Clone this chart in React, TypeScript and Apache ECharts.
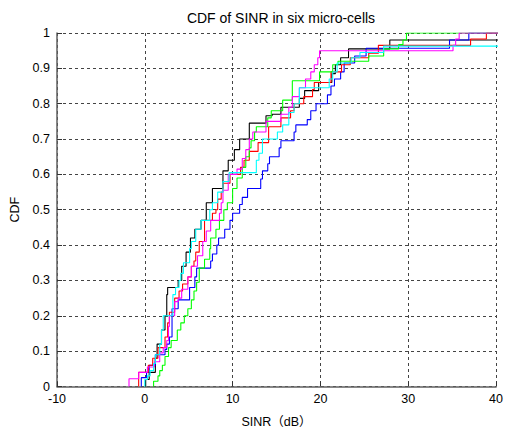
import React, { useEffect, useRef } from "react";
import * as echarts from "echarts";

const xTicks = [-10, 0, 10, 20, 30, 40];

const blackX = [0.1, 0.5, 1.2, 1.4, 1.9, 2.3, 2.5, 2.6, 3.8, 4.2, 4.7, 5.2, 5.7, 6.4, 7.0, 7.7, 8.9, 9.5, 10.2, 10.8, 11.9, 13.8, 14.5, 15.5, 17.6, 18.2, 19.8, 21.3, 21.7, 22.3, 23.2, 27.9];
const blackP = [0.02, 0.04, 0.08, 0.12, 0.16, 0.2, 0.26, 0.28, 0.3, 0.34, 0.38, 0.42, 0.445, 0.47, 0.52, 0.56, 0.61, 0.64, 0.67, 0.7, 0.745, 0.766, 0.77, 0.79, 0.815, 0.837, 0.86, 0.885, 0.91, 0.93, 0.955, 0.98];

const blueX = [-0.4, 0.2, 0.5, 1.2, 2.3, 2.5, 2.8, 3.1, 3.8, 5.1, 5.7, 5.9, 7.5, 7.7, 8.2, 8.4, 9.1, 9.7, 10.0, 10.8, 11.1, 11.7, 13.2, 13.4, 14.0, 14.2, 15.3, 15.5, 17.0, 17.2, 18.5, 18.9, 19.5, 20.8, 21.2, 21.6, 22.3, 22.7, 23.9, 25.2, 34.7, 36.9];
const blueP = [0.025, 0.04, 0.06, 0.09, 0.105, 0.12, 0.14, 0.22, 0.245, 0.28, 0.31, 0.335, 0.355, 0.375, 0.4, 0.42, 0.445, 0.47, 0.49, 0.515, 0.535, 0.56, 0.587, 0.61, 0.63, 0.65, 0.675, 0.695, 0.72, 0.74, 0.755, 0.78, 0.8, 0.825, 0.85, 0.87, 0.89, 0.915, 0.935, 0.957, 0.98, 1.0];

const redX = [-0.7, 0.4, 0.9, 1.5, 2.3, 2.6, 2.8, 3.4, 3.9, 4.3, 4.9, 5.3, 5.6, 5.8, 6.2, 6.8, 7.7, 8.1, 8.3, 8.7, 8.9, 9.7, 10.9, 11.3, 11.9, 12.9, 14.1, 15.5, 16.6, 17.0, 18.1, 19.1, 19.3, 21.2, 22.4, 23.4, 25.5, 26.6, 37.1, 38.9];
const redP = [0.04, 0.06, 0.08, 0.11, 0.14, 0.18, 0.21, 0.25, 0.27, 0.29, 0.31, 0.34, 0.355, 0.38, 0.41, 0.47, 0.49, 0.5, 0.53, 0.55, 0.575, 0.6, 0.62, 0.64, 0.665, 0.69, 0.735, 0.76, 0.78, 0.8, 0.82, 0.84, 0.86, 0.89, 0.91, 0.93, 0.943, 0.965, 0.983, 1.0];

const greenX = [1.0, 1.5, 1.7, 2.0, 2.3, 2.7, 3.0, 3.7, 4.1, 4.5, 4.9, 5.3, 5.6, 5.9, 6.2, 6.8, 7.4, 7.5, 8.1, 8.5, 9.0, 9.4, 10.0, 10.5, 11.1, 11.5, 11.9, 12.1, 12.5, 12.7, 14.0, 14.4, 15.7, 16.8, 19.9, 21.4, 22.0, 25.5, 27.2, 28.9, 29.4, 29.8];
const greenP = [0.015, 0.03, 0.045, 0.06, 0.085, 0.11, 0.13, 0.16, 0.18, 0.2, 0.22, 0.245, 0.27, 0.295, 0.335, 0.36, 0.39, 0.42, 0.445, 0.47, 0.5, 0.52, 0.56, 0.59, 0.62, 0.65, 0.675, 0.695, 0.72, 0.735, 0.76, 0.78, 0.81, 0.865, 0.89, 0.91, 0.92, 0.935, 0.955, 0.967, 0.98, 1.0];

const magentaX = [-1.8, -0.7, 0.3, 1.1, 1.7, 2.1, 2.5, 2.7, 2.8, 3.4, 3.8, 4.2, 4.9, 5.3, 6.0, 6.6, 7.0, 7.5, 8.5, 8.7, 8.9, 9.5, 10.5, 11.1, 11.5, 11.9, 12.3, 13.8, 15.5, 16.4, 16.8, 17.6, 18.3, 18.9, 19.3, 19.7, 19.9, 35.1, 35.4, 35.8];
const magentaP = [0.022, 0.04, 0.055, 0.07, 0.095, 0.11, 0.13, 0.17, 0.2, 0.24, 0.25, 0.275, 0.31, 0.34, 0.37, 0.41, 0.44, 0.47, 0.49, 0.52, 0.555, 0.6, 0.615, 0.645, 0.67, 0.7, 0.72, 0.75, 0.77, 0.79, 0.82, 0.845, 0.87, 0.89, 0.91, 0.93, 0.95, 0.965, 0.983, 1.0];

const cyanX = [0.0, 0.3, 0.6, 1.0, 1.2, 1.7, 1.9, 2.1, 3.2, 3.5, 3.9, 4.1, 4.4, 5.1, 5.3, 5.8, 6.4, 7.4, 7.7, 8.3, 8.9, 9.6, 12.7, 13.0, 13.4, 15.1, 15.7, 16.4, 17.0, 17.6, 21.0, 21.4, 21.9, 23.5, 24.5, 27.2];
const cyanP = [0.02, 0.03, 0.045, 0.065, 0.09, 0.12, 0.16, 0.2, 0.26, 0.28, 0.3, 0.32, 0.35, 0.39, 0.41, 0.445, 0.47, 0.5, 0.52, 0.55, 0.58, 0.605, 0.64, 0.66, 0.7, 0.72, 0.74, 0.775, 0.8, 0.845, 0.87, 0.89, 0.915, 0.93, 0.945, 0.963];

const seriesDefs = [
  { name: "black", color: "#000000", x: blackX, p: blackP },
  { name: "blue", color: "#0000ff", x: blueX, p: blueP },
  { name: "red", color: "#ff0000", x: redX, p: redP },
  { name: "green", color: "#00ff00", x: greenX, p: greenP },
  { name: "magenta", color: "#ff00ff", x: magentaX, p: magentaP },
  { name: "cyan", color: "#00ffff", x: cyanX, p: cyanP },
];

const FONT = "'Liberation Sans', Arial, 'Noto Sans CJK SC', sans-serif";

export default function App() {
  const ref = useRef<HTMLDivElement>(null);
  useEffect(() => {
    if (!ref.current) return;
    const chart = echarts.init(ref.current, null, { renderer: "svg" });
    const series = seriesDefs.map((s) => {
      const data: number[][] = [[s.x[0], 0]];
      s.x.forEach((x, i) => data.push([x, s.p[i]]));
      data.push([45, s.p[s.p.length - 1]]);
      return {
        type: "line",
        name: s.name,
        step: "end",
        data,
        showSymbol: false,
        symbol: "none",
        clip: true,
        lineStyle: { color: s.color, width: 1.1 },
        itemStyle: { color: s.color },
      };
    });
    chart.setOption({
      animation: false,
      backgroundColor: "#ffffff",
      textStyle: { fontFamily: FONT },
      title: {
        text: "CDF of SINR in six micro-cells",
        left: 276,
        top: 6,
        textAlign: "center",
        textStyle: { fontFamily: FONT, fontSize: 14, fontWeight: "normal", color: "#000" },
      },
      grid: { left: 57, right: 9, top: 33, bottom: 39, containLabel: false },
      xAxis: {
        type: "value",
        min: xTicks[0],
        max: xTicks[xTicks.length - 1],
        interval: 10,
        name: "SINR（dB）",
        nameLocation: "middle",
        nameGap: 29,
        nameTextStyle: { fontFamily: FONT, fontSize: 12.5, color: "#000" },
        axisLine: { show: true, onZero: false, lineStyle: { color: "#606060", width: 1.5 } },
        axisTick: { show: true, inside: true, length: 5, lineStyle: { color: "#333" } },
        axisLabel: { fontFamily: FONT, fontSize: 12.5, color: "#000", margin: 6 },
        splitLine: { show: true, lineStyle: { color: "#444", width: 1, type: [3, 3] } },
      },
      yAxis: {
        type: "value",
        min: 0,
        max: 1,
        interval: 0.1,
        name: "CDF",
        nameLocation: "middle",
        nameGap: 33,
        nameTextStyle: { fontFamily: FONT, fontSize: 12.5, color: "#000" },
        axisLine: { show: true, onZero: false, lineStyle: { color: "#606060", width: 1.5 } },
        axisTick: { show: true, inside: true, length: 5, lineStyle: { color: "#333" } },
        axisLabel: {
          fontFamily: FONT,
          fontSize: 12.5,
          color: "#000",
          margin: 7,
          formatter: (v: number) => String(+v.toFixed(1)),
        },
        splitLine: { show: true, lineStyle: { color: "#444", width: 1, type: [3, 3] } },
      },
      series,
    });
    return () => chart.dispose();
  }, []);
  return <div ref={ref} style={{ width: 506, height: 433, position: "absolute", left: 0, top: 0 }} />;
}
